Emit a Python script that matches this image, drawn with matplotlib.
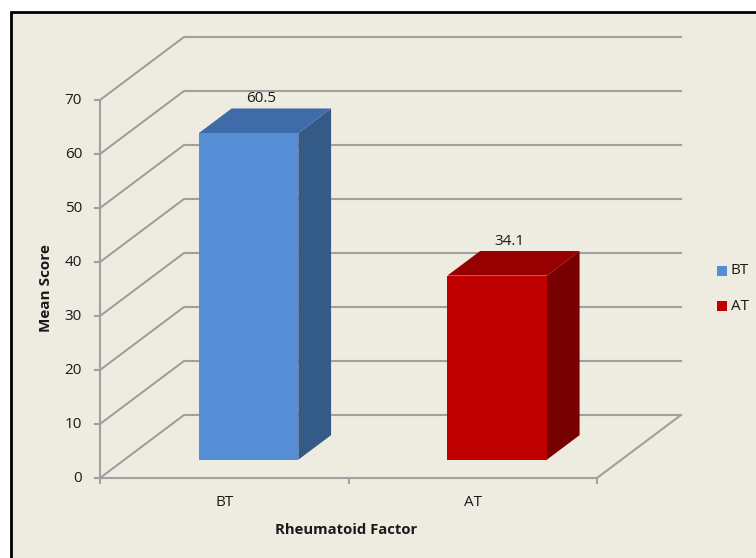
import matplotlib.pyplot as plt
from matplotlib.patches import Polygon, Rectangle

categories = ["BT", "AT"]
values = [60.5, 34.1]
y_ticks = [0, 10, 20, 30, 40, 50, 60, 70]
front_colors = ["#558ED5", "#C00000"]
top_colors = ["#3F6CA8", "#960000"]
side_colors = ["#345A88", "#770000"]

plt.rcParams['font.family'] = ['Open Sans', 'DejaVu Sans']

# layout of the pseudo-3d box, in pixel units
x0, y0 = 100, 478          # front bottom-left corner
cat_width = 248.5          # width of one category slot
px_per_unit = 5.4          # vertical pixels per score unit
depth_dx, depth_dy = 84, -63
bar_d0, bar_d1 = 0.29, 0.68  # bar depth range (fraction of box depth)
bar_frac = 0.4               # bar width as fraction of slot

def proj(cx, val, d):
    """category-space x, value, depth fraction -> pixel coords"""
    return (x0 + cx * cat_width + d * depth_dx,
            y0 - val * px_per_unit + d * depth_dy)

fig = plt.figure(figsize=(7.56, 5.58), dpi=100)
ax = fig.add_axes([0, 0, 1, 1])
ax.set_xlim(0, 756)
ax.set_ylim(558, 0)
ax.axis('off')

# chart area background with black frame
ax.add_patch(Rectangle((11, 12), 760, 560, facecolor='#EEEBE0',
                       edgecolor='black', linewidth=2, zorder=0))

grid_c = '#A0A0A0'
txt_c = '#1a1a1a'
n = len(categories)
ymax = y_ticks[-1]

# gridlines on left wall and back wall
for t in y_ticks:
    a = proj(0, t, 0)
    b = proj(0, t, 1)
    c = proj(n, t, 1)
    ax.plot([a[0], b[0], c[0]], [a[1], b[1], c[1]], color=grid_c, lw=1.5, zorder=1)
    # tick mark and label
    ax.plot([a[0] - 5, a[0]], [a[1], a[1]], color=grid_c, lw=1.5, zorder=1)
    ax.text(a[0] - 18, a[1], str(t), ha='right', va='center', fontsize=11,
            color=txt_c, zorder=5)

# vertical axis line
a = proj(0, 0, 0)
b = proj(0, ymax, 0)
ax.plot([a[0], b[0]], [a[1], b[1]], color=grid_c, lw=1.5, zorder=1)

# floor outline
f0 = proj(0, 0, 0)
f1 = proj(n, 0, 0)
f2 = proj(n, 0, 1)
ax.plot([f0[0], f1[0], f2[0]], [f0[1], f1[1], f2[1]], color=grid_c, lw=1.5, zorder=1)

# category ticks and labels
for i in range(n + 1):
    p = proj(i, 0, 0)
    ax.plot([p[0], p[0]], [p[1], p[1] + 5], color=grid_c, lw=1.5, zorder=1)
for i, cat in enumerate(categories):
    p = proj(i + 0.5, 0, 0)
    ax.text(p[0], p[1] + 24, cat, ha='center', va='center', fontsize=11,
            color=txt_c, zorder=5)

# bars
for i, v in enumerate(values):
    l = i + 0.5 - bar_frac / 2
    r = i + 0.5 + bar_frac / 2
    fl_b = proj(l, 0, bar_d0)
    fr_b = proj(r, 0, bar_d0)
    fr_t = proj(r, v, bar_d0)
    fl_t = proj(l, v, bar_d0)
    bl_t = proj(l, v, bar_d1)
    br_t = proj(r, v, bar_d1)
    br_b = proj(r, 0, bar_d1)
    ax.add_patch(Polygon([fr_b, br_b, br_t, fr_t], closed=True,
                         facecolor=side_colors[i], edgecolor='none', zorder=3))
    ax.add_patch(Polygon([fl_t, fr_t, br_t, bl_t], closed=True,
                         facecolor=top_colors[i], edgecolor='none', zorder=3))
    ax.add_patch(Polygon([fl_b, fr_b, fr_t, fl_t], closed=True,
                         facecolor=front_colors[i], edgecolor='none', zorder=4))
    lp = proj(i + 0.5, v, (bar_d0 + bar_d1) / 2 - 0.05)
    ax.text(lp[0], bl_t[1] - 2, f"{v}", ha='center', va='bottom', fontsize=11,
            color=txt_c, zorder=5)

# axis titles
ax.text(46, 288, "Mean Score", rotation=90, ha='center', va='center',
        fontsize=11, fontweight='bold', color=txt_c)
ax.text(346, 530, "Rheumatoid Factor", ha='center', va='center',
        fontsize=10.7, fontweight='bold', color=txt_c)

# legend
for i, cat in enumerate(categories):
    ly = 271 + i * 35
    ax.add_patch(Rectangle((717, ly - 5), 10, 10, facecolor=front_colors[i],
                           edgecolor='none', zorder=5))
    ax.text(731, ly, cat, ha='left', va='center', fontsize=11, color=txt_c)

fig.savefig("out.png", dpi=100, facecolor='white')
